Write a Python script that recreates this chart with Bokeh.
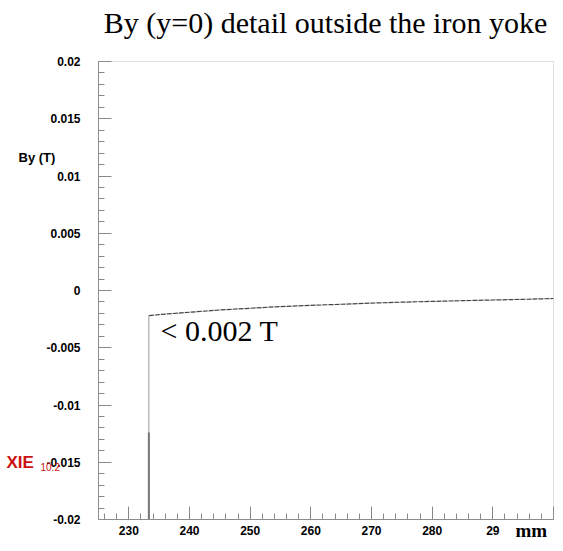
from bokeh.plotting import figure
from bokeh.models import Label, SingleIntervalTicker, Range1d, LinearAxis, BoxAnnotation
from bokeh.embed import file_html
from bokeh.resources import INLINE

# data
x_mm = [233.3, 235, 240, 245, 250, 255, 260, 265, 270, 275, 280, 285, 290, 295, 300]
by_T = [-0.0022, -0.0021, -0.0019, -0.0017, -0.00155, -0.0014, -0.0013, -0.0012,
        -0.0011, -0.00102, -0.00095, -0.00089, -0.00083, -0.00077, -0.0007]
edge_x = 233.3
edge_top = -0.0022
edge_mid = -0.0124
x_min, x_max = 225, 300
y_min, y_max = -0.02, 0.02
x_ticks_labels = {230: "230", 240: "240", 250: "250", 260: "260", 270: "270", 280: "280", 290: "29", 300: ""}
y_ticks_labels = {0.02: "0.02", 0.015: "0.015", 0.01: "0.01", 0.005: "0.005", 0: "0",
                  -0.005: "-0.005", -0.01: "-0.01", -0.015: "-0.015", -0.02: "-0.02"}

# layout (pixels on the canvas)
W, H = 555, 543
FL, FR, FT, FB = 98, 553, 61, 519
sx = (FR - FL) / (x_max - x_min)
sy = (FB - FT) / (y_max - y_min)
xr = Range1d(x_min - FL / sx, x_max + (W - FR) / sx)
yr = Range1d(y_min - (H - FB) / sy, y_max + FT / sy)

p = figure(width=W, height=H, output_backend="svg", toolbar_location=None,
           x_range=xr, y_range=yr, x_axis_location=None, y_axis_location=None,
           min_border=0, min_border_left=0, min_border_right=0, min_border_top=0, min_border_bottom=0)
p.grid.visible = False
p.outline_line_color = None
p.background_fill_color = "white"
p.border_fill_color = "white"

xaxis = LinearAxis(fixed_location=y_min, bounds=(x_min, x_max))
yaxis = LinearAxis(fixed_location=x_min, bounds=(y_min, y_max))
p.add_layout(xaxis, "below")
p.add_layout(yaxis, "left")

for ax, interval, labels in ((xaxis, 10, x_ticks_labels), (yaxis, 0.005, y_ticks_labels)):
    ax.ticker = SingleIntervalTicker(interval=interval, num_minor_ticks=5)
    ax.major_label_overrides = labels
    ax.major_tick_in = 13
    ax.major_tick_out = 0
    ax.minor_tick_in = 6
    ax.minor_tick_out = 0
    ax.axis_line_color = "#888888"
    ax.major_tick_line_color = "#888888"
    ax.minor_tick_line_color = "#888888"
    ax.major_label_text_font = "Liberation Sans"
    ax.major_label_text_font_style = "bold"
    ax.major_label_text_font_size = "12px"
    ax.major_label_text_color = "black"
xaxis.major_label_standoff = 6
yaxis.major_label_standoff = 18

# frame box
p.add_layout(BoxAnnotation(left=x_min, right=x_max, bottom=y_min, top=y_max,
                           fill_color=None, line_color="#999999", line_width=1))

# curve
p.line(x_mm, by_T, line_color="#444444", line_width=1.2, line_dash="5 1")
p.segment(x0=[edge_x], y0=[edge_top], x1=[edge_x], y1=[y_min], line_color="#999999", line_width=1)
p.segment(x0=[edge_x], y0=[edge_mid], x1=[edge_x], y1=[y_min], line_color="#777777", line_width=2)

def lab(text, x, y, font, size, style="normal", color="black", align="left", baseline="middle"):
    p.add_layout(Label(x=x, y=y, x_units="canvas", y_units="canvas", text=text,
                       text_font=font, text_font_size=size, text_font_style=style,
                       text_color=color, text_align=align, text_baseline=baseline))

lab("By (y=0) detail outside the iron yoke", 325, 22, "Liberation Serif", "30px", align="center")
lab("< 0.002 T", 160, 330, "Liberation Serif", "30px")
lab("By (T)", 18, 157, "Liberation Sans", "13px", style="bold")
lab("XIE", 6, 462, "Liberation Sans", "17px", style="bold", color="#cc1111")
lab("10.2", 40, 466, "Liberation Sans", "10px", color="#cc1111")
lab("mm", 515, 530, "Liberation Serif", "19px", style="bold")

open("out.html", "w").write(file_html(p, INLINE))
